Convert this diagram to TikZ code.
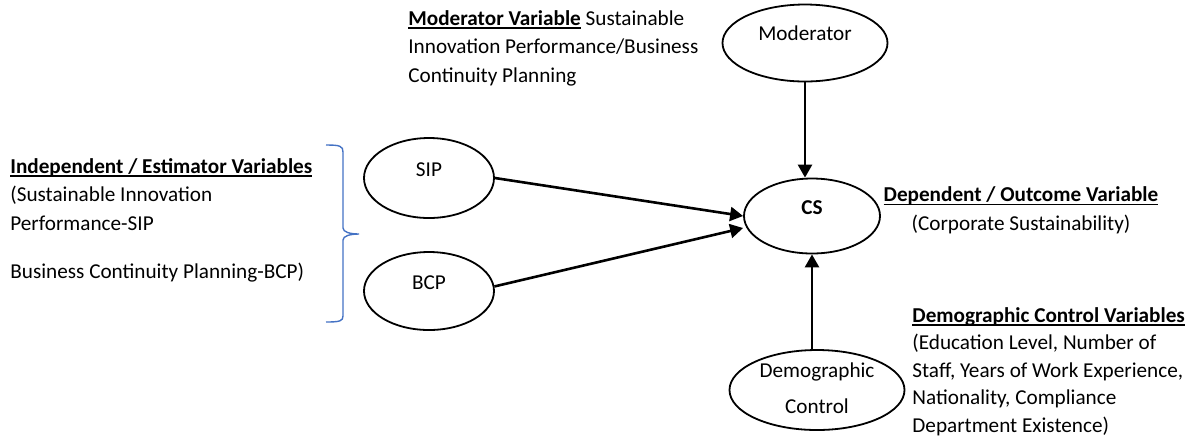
\documentclass[tikz,border=0pt]{standalone}
\usepackage{fontspec}
\setmainfont{Carlito}
\usepackage{xcolor}
\usetikzlibrary{shapes.geometric,arrows.meta}
\definecolor{braceblue}{RGB}{68,114,196}
\newcommand{\heading}[1]{\setbox0\hbox{\textbf{#1}}\rlap{\rule[-1.8pt]{\wd0}{0.8pt}}\box0\relax}

\begin{document}
\begin{tikzpicture}[x=0.5pt,y=-0.5pt,
  font=\fontsize{10.6}{14.25}\selectfont,
  var/.style={ellipse,draw,line width=0.9pt,inner sep=0pt,text height=0pt,text depth=1.2pt},
  link/.style={-{Triangle[length=6.5pt,width=7pt]},line width=1.3pt},
  note/.style={inner sep=0pt,anchor=base west,align=left}]
\useasboundingbox (0,0) rectangle (1199,441);

% Variables
\node[var,minimum width=82.5pt,minimum height=38.5pt,text depth=3pt] (mod) at (805,43) {Moderator};
\node[var,minimum width=65pt,minimum height=40pt] (sip) at (429,178) {SIP};
\node[var,minimum width=65pt,minimum height=39pt] (bcp) at (429,291) {BCP};
\node[var,minimum width=68pt,minimum height=37.5pt] (cs) at (812,216) {\textbf{CS}};
\node[var,minimum width=87.5pt,minimum height=40pt,align=center,
  font=\fontsize{10.6}{18}\selectfont,text height=23pt,text depth=0pt] (demo) at (817,390) {Demographic\\Control};

% Paths
\draw[link] (mod.south) -- (mod.south |- cs.north);
\draw[link] (sip.east) -- (cs.west);
\draw[link] (bcp.4) -- ([yshift=-6pt]cs.west);
\draw[link] (cs.south |- demo.north) -- (cs.south);

% Brace round the independent variables
\draw[braceblue,line width=0.7pt] (326,145) .. controls (340,145) and (343,146) .. (343,152)
  -- (343,228) .. controls (343,232) and (350,234) .. (359,234)
  .. controls (350,234) and (343,236) .. (343,240)
  -- (343,316) .. controls (343,321) and (340,322) .. (326,322);

% Descriptions (placed at the baseline of their last line)
\node[note] (indep) at (10,278) {\heading{Independent / Estimator Variables}\\(Sustainable Innovation\\Performance-SIP\\[9.75pt]Business Continuity Planning-BCP)};
\node[note] (modtext) at (408,82) {\heading{Moderator Variable} Sustainable\\Innovation Performance/Business\\Continuity Planning};
\node[note,anchor=base,align=center] (deptext) at (1021,230) {\heading{Dependent / Outcome Variable}\\(Corporate Sustainability)};
\node[note,font=\fontsize{10.6}{13.75}\selectfont] (demotext) at (912,432) {\heading{Demographic Control Variables}\\(Education Level, Number of\\Staff, Years of Work Experience,\\Nationality, Compliance\\Department Existence)};

\end{tikzpicture}
\end{document}
